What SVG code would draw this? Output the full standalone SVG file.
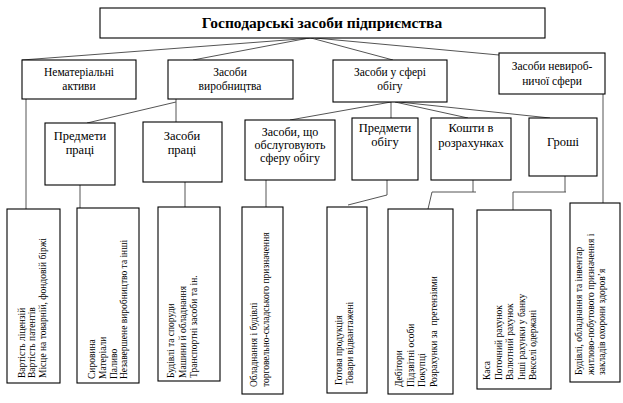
<svg xmlns="http://www.w3.org/2000/svg" width="623" height="403" viewBox="0 0 623 403">
<style>
text{font-family:"Liberation Serif","Times New Roman",serif;fill:#000}
.t{text-anchor:middle}
.r{font-size:9.5px}
.box{fill:#fff;stroke:#000;stroke-width:1.1}
.c{fill:none;stroke:#555;stroke-width:1}
</style>
<rect width="623" height="403" fill="#fff"/>
<g id="connectors">
<path class="c" d="M313 38L22 60M309 38L193 60M311 38L393 60M315 38L499 55"/>
<path class="c" d="M26 99V209M176 99V122M176 102L87 123"/>
<path class="c" d="M391 102L290 120M391 102V118M395 102L468 118M399 102L550 118"/>
<path class="c" d="M603 94V203"/>
<path class="c" d="M80 185V208M185 182V207M266 180V207"/>
<path class="c" d="M387 180V195L348 205"/>
<path class="c" d="M473 180V192M432 192H476M432 192L428 209"/>
<path class="c" d="M565 176V192M513 192H566M513 192V210"/>
</g>
<g id="title"><rect class="box" x="100" y="8" width="445" height="30"/><text class="t" x="322" y="28" font-size="15.5" font-weight="bold" font-family="Liberation Serif, serif">Господарські засоби підприємства</text></g>
<g id="n1"><rect class="box" x="22" y="60" width="114" height="39"/><text class="t" x="79" y="76" font-size="11.5" font-family="Liberation Serif, serif">Нематеріальні</text><text class="t" x="79" y="90" font-size="11.5" font-family="Liberation Serif, serif">активи</text></g>
<g id="n2"><rect class="box" x="168" y="60" width="125" height="39"/><text class="t" x="230" y="76" font-size="11.5" font-family="Liberation Serif, serif">Засоби</text><text class="t" x="230" y="90" font-size="11.5" font-family="Liberation Serif, serif">виробництва</text></g>
<g id="n3"><rect class="box" x="333" y="60" width="114" height="42"/><text class="t" x="390" y="76" font-size="11.5" font-family="Liberation Serif, serif">Засоби у сфері</text><text class="t" x="390" y="90" font-size="11.5" font-family="Liberation Serif, serif">обігу</text></g>
<g id="n4"><rect class="box" x="499" y="53" width="106" height="41"/><text class="t" x="552" y="70" font-size="11.5" font-family="Liberation Serif, serif">Засоби невироб-</text><text class="t" x="552" y="85" font-size="11.5" font-family="Liberation Serif, serif">ничої сфери</text></g>
<g id="n5"><rect class="box" x="45" y="123" width="70" height="62"/><text class="t" x="80" y="140" font-size="12.5" font-family="Liberation Serif, serif">Предмети</text><text class="t" x="80" y="154" font-size="12.5" font-family="Liberation Serif, serif">праці</text></g>
<g id="n6"><rect class="box" x="143" y="122" width="79" height="60"/><text class="t" x="182" y="140" font-size="12.5" font-family="Liberation Serif, serif">Засоби</text><text class="t" x="182" y="154" font-size="12.5" font-family="Liberation Serif, serif">праці</text></g>
<g id="n7"><rect class="box" x="245" y="120" width="90" height="60"/><text class="t" x="290" y="136" font-size="12" font-family="Liberation Serif, serif">Засоби, що</text><text class="t" x="290" y="149" font-size="12" font-family="Liberation Serif, serif">обслуговують</text><text class="t" x="290" y="162" font-size="12" font-family="Liberation Serif, serif">сферу обігу</text></g>
<g id="n8"><rect class="box" x="352" y="118" width="66" height="62"/><text class="t" x="385" y="132" font-size="12.5" font-family="Liberation Serif, serif">Предмети</text><text class="t" x="385" y="146" font-size="12.5" font-family="Liberation Serif, serif">обігу</text></g>
<g id="n9"><rect class="box" x="431" y="118" width="80" height="62"/><text class="t" x="471" y="132" font-size="12.5" font-family="Liberation Serif, serif">Кошти в</text><text class="t" x="471" y="147" font-size="12.5" font-family="Liberation Serif, serif">розрахунках</text></g>
<g id="n10"><rect class="box" x="529" y="118" width="68" height="58"/><text class="t" x="563" y="146" font-size="12.5" font-family="Liberation Serif, serif">Гроші</text></g>
<g id="b1"><rect class="box" x="7" y="209" width="53" height="174"/><text class="r" transform="translate(24.5,378) rotate(-90)"><tspan x="0" y="0">Вартість ліцензій</tspan><tspan x="0" dy="10.5">Вартість патентів</tspan><tspan x="0" dy="10.5">Місце на товарній, фондовій біржі</tspan></text></g>
<g id="b2"><rect class="box" x="77" y="208" width="62" height="175"/><text class="r" transform="translate(95,379) rotate(-90)"><tspan x="0" y="0">Сировина</tspan><tspan x="0" dy="10.8">Матеріали</tspan><tspan x="0" dy="10.8">Паливо</tspan><tspan x="0" dy="10.8">Незавершене виробництво та інші</tspan></text></g>
<g id="b3"><rect class="box" x="158" y="207" width="62" height="174"/><text class="r" transform="translate(174,378) rotate(-90)"><tspan x="0" y="0">Будівлі та споруди</tspan><tspan x="0" dy="11.7">Машини й обладнання</tspan><tspan x="0" dy="11.7">Транспортні засоби та ін.</tspan></text></g>
<g id="b4"><rect class="box" x="242" y="207" width="41" height="187"/><text class="r" transform="translate(257,387) rotate(-90)"><tspan x="0" y="0">Обладнання і будівлі</tspan><tspan x="0" dy="11.7">торговельно-складського призначення</tspan></text></g>
<g id="b5"><rect class="box" x="327" y="207" width="40" height="186"/><text class="r" transform="translate(342,385) rotate(-90)"><tspan x="0" y="0">Готова продукція</tspan><tspan x="0" dy="11">Товари відвантажені</tspan></text></g>
<g id="b6"><rect class="box" x="388" y="209" width="65" height="185"/><text class="r" transform="translate(402,387) rotate(-90)"><tspan x="0" y="0">Дебітори</tspan><tspan x="0" dy="11.5">Підзвітні особи</tspan><tspan x="0" dy="11.5">Покупці</tspan><tspan x="0" dy="11.5" xml:space="preserve">Розрахунки за  претензіями</tspan></text></g>
<g id="b7"><rect class="box" x="477" y="210" width="74" height="179"/><text class="r" transform="translate(490,380) rotate(-90)"><tspan x="0" y="0">Каса</tspan><tspan x="0" dy="11.5">Поточний рахунок</tspan><tspan x="0" dy="11.5">Валютний рахунок</tspan><tspan x="0" dy="11.5">Інші рахунки у банку</tspan><tspan x="0" dy="11.5">Векселі одержані</tspan></text></g>
<g id="b8"><rect class="box" x="570" y="203" width="50" height="179"/><text class="r" transform="translate(582,375) rotate(-90)"><tspan x="0" y="0">Будівлі, обладнання та інвентар</tspan><tspan x="0" dy="11.7">житлово-побутового призначення і</tspan><tspan x="0" dy="11.7">закладів охорони здоров’я</tspan></text></g>
</svg>
